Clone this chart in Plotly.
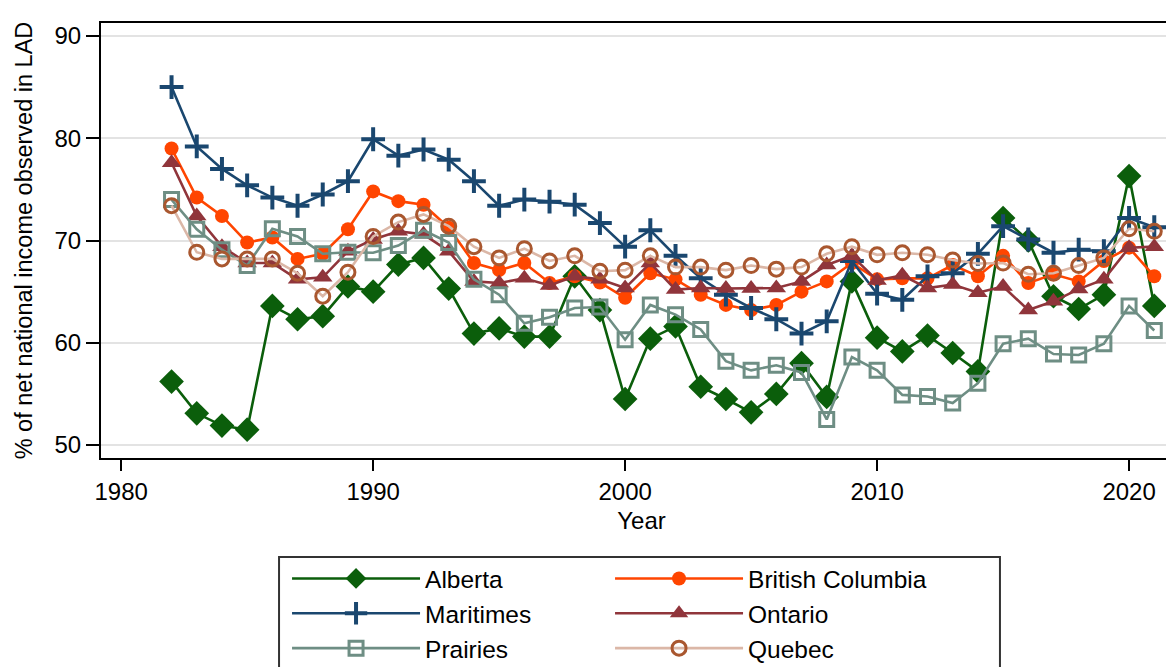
import plotly.graph_objects as go

# years and regional shares (% of net national income observed in LAD)
years = list(range(1982, 2022))

alberta = [56.2, 53.1, 51.9, 51.5, 63.6, 62.3, 62.6, 65.5, 65.0, 67.65, 68.3, 65.3,
           60.9, 61.4, 60.6, 60.6, 66.5, 63.2, 54.5, 60.4, 61.6, 55.7, 54.5, 53.2, 55.0, 58.0,
           54.7, 66.0, 60.5, 59.15, 60.7, 59.0, 57.2, 72.2, 70.0, 64.55, 63.3, 64.7, 76.3, 63.6]
british_columbia = [79.0, 74.2, 72.4, 69.8, 70.3, 68.2, 68.7, 71.1, 74.8, 73.85, 73.5, 71.25,
                    67.8, 67.1, 67.8, 65.85, 66.5, 65.9, 64.4, 66.8, 66.2, 64.7, 63.7, 63.2, 63.7, 65.0,
                    66.0, 67.8, 66.2, 66.3, 66.3, 67.6, 66.5, 68.5, 65.85, 66.7, 66.0, 68.0, 69.3, 66.5]
maritimes = [85.0, 79.2, 77.0, 75.4, 74.2, 73.4, 74.5, 75.8, 79.9, 78.3, 78.9, 77.9,
             75.8, 73.4, 74.0, 73.8, 73.5, 71.7, 69.4, 71.0, 68.5, 66.3, 64.7, 63.4, 62.3, 60.9,
             62.1, 68.0, 64.8, 64.2, 66.5, 66.8, 68.7, 71.4, 70.1, 68.8, 69.1, 68.95, 72.2, 71.3]
ontario = [77.6, 72.4, 69.4, 67.8, 67.8, 66.2, 66.4, 68.95, 70.1, 70.9, 70.6, 68.95,
           66.0, 65.85, 66.3, 65.6, 66.5, 66.2, 65.35, 67.8, 65.2, 65.35, 65.3, 65.3, 65.35, 66.0,
           67.6, 68.5, 66.1, 66.6, 65.35, 65.7, 64.9, 65.5, 63.2, 64.05, 65.25, 66.2, 69.3, 69.4]
prairies = [74.0, 71.1, 69.1, 67.55, 71.15, 70.4, 68.7, 68.85, 68.8, 69.5, 71.0, 69.8,
            66.2, 64.7, 61.9, 62.5, 63.4, 63.5, 60.3, 63.7, 62.75, 61.3, 58.2, 57.3, 57.8, 57.1,
            52.5, 58.6, 57.3, 54.9, 54.75, 54.1, 56.05, 59.9, 60.4, 58.9, 58.8, 59.9, 63.6, 61.2]
quebec = [73.4, 68.85, 68.2, 68.2, 68.2, 66.8, 64.55, 66.9, 70.4, 71.8, 72.55, 71.4,
          69.4, 68.3, 69.2, 68.0, 68.5, 67.0, 67.1, 68.5, 67.4, 67.4, 67.1, 67.55, 67.2, 67.4,
          68.7, 69.4, 68.6, 68.8, 68.6, 68.1, 67.75, 67.8, 66.7, 66.8, 67.55, 68.3, 71.15, 70.9]

x_ticks = [1980, 1990, 2000, 2010, 2020]
y_ticks = [50, 60, 70, 80, 90]

FONT = "Liberation Sans, Arial, sans-serif"


def region_trace(name, y, line_color, symbol, size, legend, marker_color=None, open_marker=False):
    """Line+marker trace for one region."""
    mc = marker_color or line_color
    marker = dict(symbol=symbol, size=size, color=mc)
    if open_marker:
        marker["line"] = dict(color=mc, width=3)
    return go.Scatter(x=years, y=y, name=name, mode="lines+markers",
                      line=dict(color=line_color, width=2.6), marker=marker,
                      legend=legend, legendgroup=name)


fig = go.Figure()
fig.add_trace(region_trace("Alberta", alberta, "#0b5e0b", "diamond", 19, "legend"))
fig.add_trace(region_trace("British Columbia", british_columbia, "#ff4500", "circle", 14, "legend2"))
fig.add_trace(region_trace("Maritimes", maritimes, "#1a476f", "cross-thin", 17, "legend", open_marker=True))
fig.data[-1].marker.line.width = 4
fig.add_trace(region_trace("Ontario", ontario, "#90353b", "triangle-up", 17, "legend2"))
fig.add_trace(region_trace("Prairies", prairies, "#6e8e84", "square-open", 14, "legend", open_marker=True))
fig.add_trace(region_trace("Quebec", quebec, "#dbb7a7", "circle-open", 14, "legend2",
                           marker_color="#a9572f", open_marker=True))

legend_style = dict(orientation="v", yanchor="top", xanchor="left", y=-0.2253,
                    bgcolor="rgba(0,0,0,0)", borderwidth=0, itemwidth=128,
                    tracegroupgap=0, font=dict(family=FONT, size=24.5, color="black"))

fig.update_layout(
    width=1174, height=667,
    margin=dict(l=93, r=0, t=15, b=217, autoexpand=False),
    plot_bgcolor="white", paper_bgcolor="white",
    font=dict(family=FONT, size=24, color="black"),
    legend=dict(legend_style, x=0.1721),
    legend2=dict(legend_style, x=0.4709),
    shapes=[dict(type="rect", xref="paper", yref="paper", x0=0.1647, x1=0.8316, y0=-0.6, y1=-0.2276,
                 line=dict(color="#333333", width=2), layer="above")],
)

fig.update_xaxes(range=[1979.2, 2022.1], tickvals=x_ticks, ticks="outside", ticklen=11, tickwidth=2,
                 tickcolor="black", showline=True, linewidth=2, linecolor="black", mirror=True,
                 showgrid=False, zeroline=False, automargin=True,
                 title=dict(text="Year", font=dict(size=24), standoff=8))
fig.update_yaxes(range=[48.73, 91.27], tickvals=y_ticks, ticks="outside", ticklen=13, tickwidth=2,
                 tickcolor="black", showline=True, linewidth=2, linecolor="black",
                 showgrid=True, gridcolor="#e3e3e3", gridwidth=2, zeroline=False,
                 title=dict(text="% of net national income observed in LAD", font=dict(size=23.5)))

fig.write_html("out.html")
